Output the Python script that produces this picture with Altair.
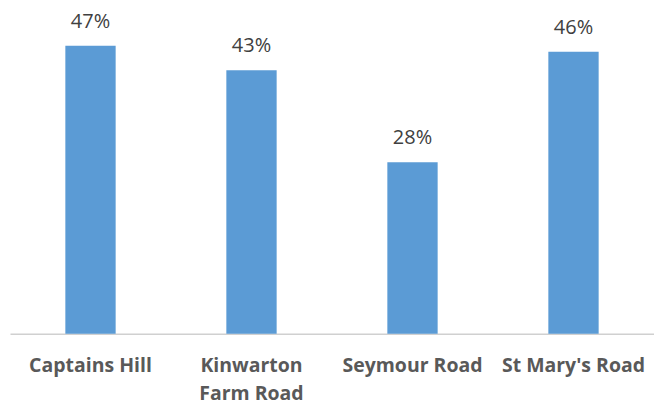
import altair as alt
import pandas as pd

categories = ["Captains Hill", "Kinwarton Farm Road", "Seymour Road", "St Mary's Road"]
values = [47, 43, 28, 46]
labels = ["47%", "43%", "28%", "46%"]

df = pd.DataFrame({"cat": categories, "val": values, "lab": labels})

x = alt.X("cat:N", sort=categories, title=None,
          scale=alt.Scale(paddingInner=0.6875, paddingOuter=0.34375),
          axis=alt.Axis(labelAngle=0, ticks=False, domainColor="#D0D0D0", domainWidth=1.5,
                        labelFont="Open Sans", labelFontWeight="bold", labelFontSize=19.5,
                        labelColor="#595959", labelPadding=23, labelLineHeight=28,
                        labelExpr="datum.label == 'Kinwarton Farm Road' ? ['Kinwarton', 'Farm Road'] : datum.label"))
y = alt.Y("val:Q", title=None, scale=alt.Scale(domain=[0, 50]), axis=None)

bars = alt.Chart(df).mark_bar(color="#5B9BD5").encode(x=x, y=y)
text = alt.Chart(df).mark_text(dy=-18, baseline="alphabetic", font="Open Sans", fontSize=20,
                               color="#404040").encode(x=x, y=y, text="lab:N")

chart = (bars + text).properties(
    width=645, height=307,
    autosize=alt.AutoSizeParams(type="none"),
    padding={"left": 2, "top": 19, "right": 0, "bottom": 75},
).configure_view(stroke=None)

chart.save("out.html", embed_options={"renderer": "svg", "actions": False})
